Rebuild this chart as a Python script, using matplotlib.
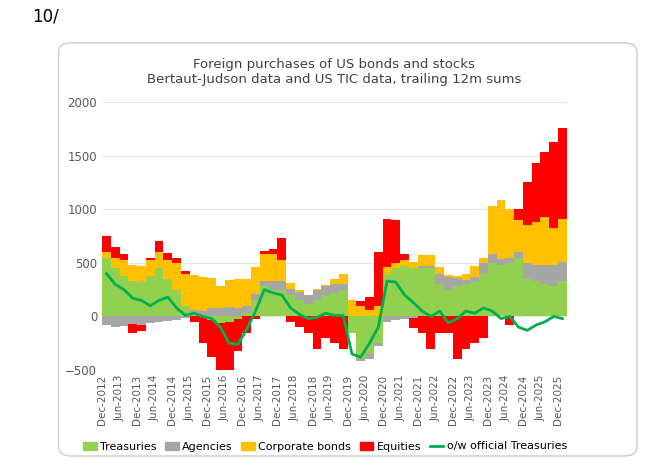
"""Foreign purchases of US bonds and stocks -- stacked bars + official Treasuries line."""
import numpy as np
import matplotlib.pyplot as plt
from matplotlib.patches import FancyBboxPatch, Patch
from matplotlib.lines import Line2D

# quarterly estimates, starting Dec-2012 (trailing 12m sums, $bn)
treasuries = [550, 450, 380, 330, 320, 380, 450, 350, 250, 100, 30, 0, -30, -60, -50, -20,
              30, 150, 280, 250, 250, 200, 150, 120, 150, 200, 220, 250, -150, -400, -350, -250,
              400, 450, 470, 450, 450, 450, 300, 250, 280, 300, 320, 400, 500, 480, 500, 550,
              350, 330, 300, 280, 330]
agencies = [-80, -100, -90, -70, -80, -60, -50, -40, -30, -10, 30, 50, 80, 80, 90, 80,
            70, 60, 50, 80, 80, 60, 80, 80, 100, 80, 80, 50, 0, -20, -50, -30,
            -50, -30, -20, -10, 20, 20, 100, 120, 80, 40, 50, 100, 80, 60, 50, 50,
            150, 150, 180, 200, 180]
corporates = [50, 100, 150, 150, 150, 150, 150, 180, 250, 300, 330, 320, 280, 200, 250, 270,
              250, 250, 250, 250, 200, 50, 20, 0, 10, 10, 50, 100, 150, 100, 60, 100,
              60, 50, 60, 60, 100, 100, 60, 20, 20, 60, 100, 50, 450, 550, 450, 300,
              350, 400, 450, 350, 400]
equities = [150, 100, 50, -80, -60, 20, 100, 60, 50, 20, -50, -250, -350, -470, -450, -300,
            -150, -20, 30, 50, 200, -50, -100, -150, -300, -200, -250, -300, 0, 40, 120, 500,
            450, 400, 50, -100, -150, -300, -150, -150, -400, -300, -250, -200, 0, 0, -80, 100,
            400, 550, 600, 800, 850]
official = [400, 300, 250, 170, 150, 100, 150, 180, 80, 10, 30, 0, -20, -100, -250, -260,
            -120, 50, 250, 220, 200, 80, 20, -20, -10, 30, 10, 10, -350, -380, -250, -100,
            330, 320, 200, 130, 50, 0, 50, -60, -20, 50, 30, 80, 50, -20, 0, -100,
            -130, -80, -50, 0, -20]
tick_labels = [f"{m}-{y}" for y in range(2012, 2026) for m in ("Jun", "Dec")][1:]

series = [("Treasuries", treasuries, "#92d050"), ("Agencies", agencies, "#a6a6a6"),
          ("Corporate bonds", corporates, "#ffc000"), ("Equities", equities, "#ff0000")]

fig = plt.figure(figsize=(6.5, 4.75), dpi=100)
fig.text(0.05, 0.955, "10/", fontsize=12)
box = FancyBboxPatch((0.09, 0.04), 0.89, 0.87, boxstyle="round,pad=0,rounding_size=0.02",
                     transform=fig.transFigure, fc="white", ec="#cccccc", lw=1, zorder=-10)
fig.patches.append(box)
ax = fig.add_axes([0.157, 0.221, 0.715, 0.564])
ax.patch.set_alpha(0)

x = np.arange(len(treasuries)) * 3
pos = np.zeros(len(x)); neg = np.zeros(len(x))
for name, vals, col in series:
    v = np.array(vals, dtype=float)
    bottom = np.where(v >= 0, pos, neg)
    ax.bar(x, v, width=3, bottom=bottom, align="edge", color=col, lw=0)
    pos += np.where(v >= 0, v, 0); neg += np.where(v < 0, v, 0)
ax.plot(x + 1.5, official, color="#00b050", lw=2)

ax.set_ylim(-500, 2000); ax.set_xlim(0, x[-1] + 3)
ax.set_yticks(range(-500, 2001, 500))
ax.set_xticks(range(0, 157, 6)); ax.set_xticklabels(tick_labels, rotation=90, fontsize=7.5)
ax.tick_params(axis="y", labelsize=8.5, length=0, colors="#595959")
ax.tick_params(axis="x", length=0, colors="#595959")
ax.grid(axis="y", color="#e6e6e6", lw=0.8); ax.set_axisbelow(True)
for s in ax.spines.values(): s.set_visible(False)
ax.set_title("Foreign purchases of US bonds and stocks\nBertaut-Judson data and US TIC data, trailing 12m sums",
             fontsize=9.5, color="#404040", pad=14)
handles = [Patch(color=c, label=n) for n, _, c in series] + [Line2D([], [], color="#00b050", lw=2, label="o/w official Treasuries")]
fig.legend(handles=handles, loc="center", bbox_to_anchor=(0.5, 0.06), ncol=5, frameon=False,
           fontsize=8, handlelength=1.2, columnspacing=0.8, handletextpad=0.3)
fig.savefig("out.png")
